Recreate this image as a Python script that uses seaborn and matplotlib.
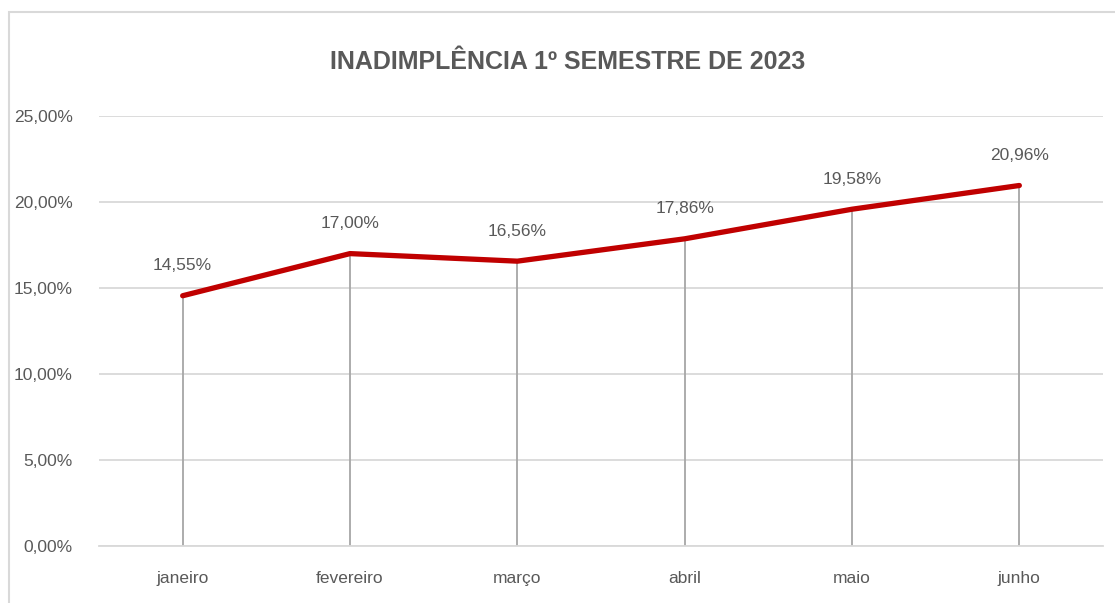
import matplotlib
matplotlib.use('Agg')
import matplotlib.pyplot as plt
import seaborn as sns
import pandas as pd
from matplotlib.patches import Rectangle
from matplotlib.ticker import FuncFormatter

# Data
meses = ['janeiro', 'fevereiro', 'março', 'abril', 'maio', 'junho']
inadimplencia = [14.55, 17.00, 16.56, 17.86, 19.58, 20.96]
y_ticks = [0, 5, 10, 15, 20, 25]

df = pd.DataFrame({'Mes': meses, 'Valor': inadimplencia})

sns.set_style('white')
plt.rcParams['font.family'] = ['Liberation Sans', 'DejaVu Sans']

fig = plt.figure(figsize=(11.15, 6.03), dpi=100)
ax = fig.add_axes([99 / 1115, 1 - 546 / 603, 1004 / 1115, 430 / 603])

# outer chart frame
fig.patches.append(Rectangle((9 / 1115, -0.1), 1.2, 1 - 12 / 603 + 0.1,
                             transform=fig.transFigure, fill=False,
                             edgecolor='#d9d9d9', linewidth=1.5))

x = list(range(len(meses)))
# drop lines
ax.vlines(x, 0, df['Valor'], color='#a6a6a6', linewidth=1.3, zorder=2)
sns.lineplot(x=x, y=df['Valor'], ax=ax, color='#c00000', linewidth=3.8,
             zorder=3, solid_capstyle='round')

for xi, v in zip(x, df['Valor']):
    ax.annotate(f'{v:.2f}%'.replace('.', ','), (xi, v), xytext=(0, 21.5),
                textcoords='offset points', ha='center', va='center',
                fontsize=12.5, color='#595959')

ax.set_xlim(-0.5, len(meses) - 0.5)
ax.set_ylim(0, 25)
ax.set_yticks(y_ticks)
ax.yaxis.set_major_formatter(FuncFormatter(lambda v, p: f'{v:.2f}%'.replace('.', ',')))
ax.set_xticks(x)
ax.set_xticklabels(meses)
ax.grid(axis='y', color='#d9d9d9', linewidth=1.3)
ax.set_axisbelow(True)
for s in ['top', 'right', 'left']:
    ax.spines[s].set_visible(False)
ax.spines['bottom'].set_color('#d9d9d9')
ax.spines['bottom'].set_linewidth(1.3)
ax.tick_params(axis='both', length=0, labelsize=12.5, colors='#595959')
ax.tick_params(axis='x', pad=18)
ax.tick_params(axis='y', pad=19)
ax.set_xlabel('')
ax.set_ylabel('')

fig.text(568 / 1115, 1 - 62 / 603, 'INADIMPLÊNCIA 1º SEMESTRE DE 2023',
         ha='center', va='center', fontsize=18, fontweight='bold', color='#595959')

fig.savefig('out.png', dpi=100)
